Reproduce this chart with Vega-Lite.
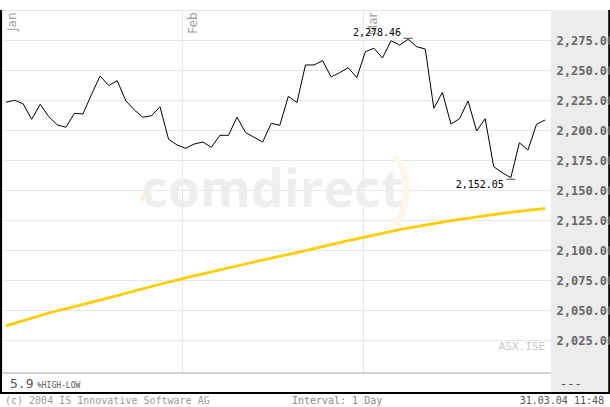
{
  "$schema": "https://vega.github.io/schema/vega-lite/v6.json",
  "width": 610,
  "height": 363,
  "autosize": {"type": "none"},
  "padding": {"left": 0, "right": 0, "top": 10, "bottom": 34},
  "background": "white",
  "config": {"view": {"stroke": null}, "font": "DejaVu Sans Mono"},
  "datasets": {
    "one": [{}],
    "price": [
      {"i": 0, "c": 2223.1}, {"i": 1, "c": 2224.8}, {"i": 2, "c": 2221.9}, {"i": 3, "c": 2208.9},
      {"i": 4, "c": 2221.4}, {"i": 5, "c": 2211.1}, {"i": 6, "c": 2204.2}, {"i": 7, "c": 2202.3},
      {"i": 8, "c": 2213.9}, {"i": 9, "c": 2213.3}, {"i": 10, "c": 2229.8}, {"i": 11, "c": 2245.0},
      {"i": 12, "c": 2237.1}, {"i": 13, "c": 2241.1}, {"i": 14, "c": 2224.4}, {"i": 15, "c": 2216.7},
      {"i": 16, "c": 2210.6}, {"i": 17, "c": 2211.9}, {"i": 18, "c": 2219.4}, {"i": 19, "c": 2192.3},
      {"i": 20, "c": 2187.5}, {"i": 21, "c": 2184.8}, {"i": 22, "c": 2188.3}, {"i": 23, "c": 2190.0},
      {"i": 24, "c": 2185.6}, {"i": 25, "c": 2195.6}, {"i": 26, "c": 2195.6}, {"i": 27, "c": 2210.6},
      {"i": 28, "c": 2197.8}, {"i": 29, "c": 2193.9}, {"i": 30, "c": 2190.0}, {"i": 31, "c": 2205.6},
      {"i": 32, "c": 2203.9}, {"i": 33, "c": 2228.1}, {"i": 34, "c": 2222.8}, {"i": 35, "c": 2254.2},
      {"i": 36, "c": 2254.2}, {"i": 37, "c": 2257.8}, {"i": 38, "c": 2244.2}, {"i": 39, "c": 2247.8},
      {"i": 40, "c": 2251.9}, {"i": 41, "c": 2243.6}, {"i": 42, "c": 2265.3}, {"i": 43, "c": 2268.1},
      {"i": 44, "c": 2260.0}, {"i": 45, "c": 2274.4}, {"i": 46, "c": 2270.8}, {"i": 47, "c": 2275.6},
      {"i": 48, "c": 2269.4}, {"i": 49, "c": 2267.5}, {"i": 50, "c": 2218.1}, {"i": 51, "c": 2231.4},
      {"i": 52, "c": 2205.0}, {"i": 53, "c": 2209.4}, {"i": 54, "c": 2224.2}, {"i": 55, "c": 2199.2},
      {"i": 56, "c": 2209.4}, {"i": 57, "c": 2169.4}, {"i": 58, "c": 2164.4}, {"i": 59, "c": 2160.3},
      {"i": 60, "c": 2189.4}, {"i": 61, "c": 2183.3}, {"i": 62, "c": 2204.8}, {"i": 63, "c": 2208.3}
    ],
    "ma": [
      {"i": 0, "m": 2036.7}, {"i": 5, "m": 2047.5}, {"i": 11, "m": 2058.3}, {"i": 17, "m": 2069.6},
      {"i": 21, "m": 2076.7}, {"i": 29, "m": 2090.0}, {"i": 34, "m": 2097.9}, {"i": 40, "m": 2107.9},
      {"i": 46, "m": 2116.9}, {"i": 52, "m": 2124.4}, {"i": 58, "m": 2130.6}, {"i": 63, "m": 2134.6}
    ],
    "extremes": [
      {"i": 47, "v": 2278.46, "mark": 2276.4, "label": "2,278.46"},
      {"i": 59, "v": 2152.05, "mark": 2158.9, "label": "2,152.05"}
    ]
  },
  "resolve": {"axis": {"x": "independent", "y": "independent"}},
  "layer": [
    {
      "data": {"name": "one"},
      "mark": {"type": "rect", "fill": "#ececec"},
      "encoding": {
        "x": {"datum": 63.7, "type": "quantitative", "scale": {"domain": [-0.701, 70.59], "nice": false, "zero": false},
          "axis": {"orient": "top", "values": [-0.5, 20.6, 41.7], "grid": true, "gridColor": "#e6e6e6", "domain": false, "ticks": false,
            "labelExpr": "datum.value < 10 ? 'Jan' : datum.value < 30 ? 'Feb' : 'Mar'",
            "labelAngle": 270, "labelAlign": "right", "labelBaseline": "top", "labelPadding": -2, "labelOffset": 5,
            "labelColor": "#a0a0a0", "labelFont": "DejaVu Sans", "labelFontSize": 12, "labelFlush": false, "labelOverlap": false,
            "labelBound": false, "title": null, "zindex": 0}},
        "x2": {"datum": 70.5},
        "y": {"datum": 2300, "type": "quantitative", "scale": {"domain": [1997.5, 2300], "nice": false, "zero": false},
          "axis": {"orient": "right", "offset": -54, "values": [2025, 2050, 2075, 2100, 2125, 2150, 2175, 2200, 2225, 2250, 2275],
            "format": ",.2f", "grid": false, "ticks": false, "domain": false, "labelPadding": 0,
            "labelFont": "DejaVu Sans Mono", "labelFontSize": 12, "labelFontWeight": "bold", "labelColor": "#666666", "labelAlign": "left",
            "labelBaseline": "middle", "title": null, "zindex": 1, "labelBound": false, "labelOverlap": false, "labelFlush": false}},
        "y2": {"datum": 1980.83}
      }
    },
    {
      "data": {"name": "one"},
      "mark": {"type": "rule", "color": "#a8a8a8", "strokeWidth": 1},
      "encoding": {
        "x": {"datum": -0.701, "type": "quantitative", "scale": {"domain": [-0.701, 70.59], "nice": false, "zero": false}, "axis": null},
        "x2": {"datum": 63.7},
        "y": {"datum": 1997.5, "type": "quantitative", "scale": {"domain": [1997.5, 2300], "nice": false, "zero": false}, "axis": null}
      }
    },
    {
      "data": {"name": "one"},
      "mark": {"type": "text", "text": "comdirect", "font": "Open Sans", "fontWeight": "bold", "fontSize": 52, "color": "#eeeeee", "align": "center", "baseline": "alphabetic"},
      "encoding": {
        "x": {"datum": 31.1, "type": "quantitative", "scale": {"domain": [-0.701, 70.59], "nice": false, "zero": false}, "axis": null},
        "y": {"datum": 2135.8, "type": "quantitative", "scale": {"domain": [1997.5, 2300], "nice": false, "zero": false}, "axis": null}
      }
    },
    {
      "data": {"name": "one"},
      "mark": {"type": "point", "shape": "square", "filled": true, "size": 36, "color": "#fdf1d6", "opacity": 1},
      "encoding": {
        "x": {"datum": 16.05, "type": "quantitative", "scale": {"domain": [-0.701, 70.59], "nice": false, "zero": false}, "axis": null},
        "y": {"datum": 2143.3, "type": "quantitative", "scale": {"domain": [1997.5, 2300], "nice": false, "zero": false}, "axis": null}
      }
    },
    {
      "data": {"name": "one"},
      "mark": {"type": "text", "text": ")", "font": "Open Sans", "fontSize": 78, "color": "#fef6e6", "align": "center", "baseline": "middle"},
      "encoding": {
        "x": {"datum": 46.2, "type": "quantitative", "scale": {"domain": [-0.701, 70.59], "nice": false, "zero": false}, "axis": null},
        "y": {"datum": 2150, "type": "quantitative", "scale": {"domain": [1997.5, 2300], "nice": false, "zero": false}, "axis": null}
      }
    },
    {
      "data": {"name": "ma"},
      "mark": {"type": "line", "color": "#ffcc00", "strokeWidth": 2.8},
      "encoding": {
        "x": {"field": "i", "type": "quantitative", "scale": {"domain": [-0.701, 70.59], "nice": false, "zero": false}, "axis": null},
        "y": {"field": "m", "type": "quantitative", "scale": {"domain": [1997.5, 2300], "nice": false, "zero": false}, "axis": null}
      }
    },
    {
      "data": {"name": "price"},
      "mark": {"type": "line", "color": "#000000", "strokeWidth": 1},
      "encoding": {
        "x": {"field": "i", "type": "quantitative", "scale": {"domain": [-0.701, 70.59], "nice": false, "zero": false}, "axis": null},
        "y": {"field": "c", "type": "quantitative", "scale": {"domain": [1997.5, 2300], "nice": false, "zero": false},
          "axis": {"orient": "left", "values": [2025, 2050, 2075, 2100, 2125, 2150, 2175, 2200, 2225, 2250, 2275, 2300],
            "grid": true, "gridColor": "#e6e6e6", "labels": false, "ticks": false, "domain": false, "title": null, "zindex": 0}}
      }
    },
    {
      "data": {"name": "extremes"},
      "mark": {"type": "tick", "orient": "horizontal", "color": "#000000", "size": 9, "thickness": 1},
      "encoding": {
        "x": {"field": "i", "type": "quantitative", "scale": {"domain": [-0.701, 70.59], "nice": false, "zero": false}, "axis": null},
        "y": {"field": "mark", "type": "quantitative", "scale": {"domain": [1997.5, 2300], "nice": false, "zero": false}, "axis": null}
      }
    },
    {
      "data": {"name": "extremes"},
      "mark": {"type": "text", "font": "DejaVu Sans Mono", "fontSize": 10, "color": "#000000", "align": "right", "baseline": "middle", "dx": -7, "dy": -3},
      "encoding": {
        "x": {"field": "i", "type": "quantitative", "scale": {"domain": [-0.701, 70.59], "nice": false, "zero": false}, "axis": null},
        "y": {"field": "v", "type": "quantitative", "scale": {"domain": [1997.5, 2300], "nice": false, "zero": false}, "axis": null},
        "text": {"field": "label"}
      }
    },
    {
      "data": {"name": "one"},
      "mark": {"type": "text", "text": "ASX.ISE", "font": "DejaVu Sans Mono", "fontSize": 11, "color": "#c8c8c8", "align": "right", "baseline": "middle"},
      "encoding": {
        "x": {"datum": 63, "type": "quantitative", "scale": {"domain": [-0.701, 70.59], "nice": false, "zero": false}, "axis": null},
        "y": {"datum": 2019.2, "type": "quantitative", "scale": {"domain": [1997.5, 2300], "nice": false, "zero": false}, "axis": null}
      }
    },
    {
      "data": {"name": "one"},
      "mark": {"type": "text", "text": "5.9", "font": "DejaVu Sans Mono", "fontSize": 13, "color": "#555555", "align": "left", "baseline": "alphabetic"},
      "encoding": {
        "x": {"datum": 0.47, "type": "quantitative", "scale": {"domain": [-0.701, 70.59], "nice": false, "zero": false}, "axis": null},
        "y": {"datum": 1985, "type": "quantitative", "scale": {"domain": [1997.5, 2300], "nice": false, "zero": false}, "axis": null}
      }
    },
    {
      "data": {"name": "one"},
      "mark": {"type": "text", "text": "%HIGH-LOW", "font": "DejaVu Sans Mono", "fontSize": 8, "color": "#555555", "align": "left", "baseline": "alphabetic"},
      "encoding": {
        "x": {"datum": 3.62, "type": "quantitative", "scale": {"domain": [-0.701, 70.59], "nice": false, "zero": false}, "axis": null},
        "y": {"datum": 1985, "type": "quantitative", "scale": {"domain": [1997.5, 2300], "nice": false, "zero": false}, "axis": null}
      }
    },
    {
      "data": {"name": "one"},
      "mark": {"type": "text", "text": "---", "font": "DejaVu Sans Mono", "fontSize": 12, "color": "#555555", "align": "left", "baseline": "middle"},
      "encoding": {
        "x": {"datum": 64.75, "type": "quantitative", "scale": {"domain": [-0.701, 70.59], "nice": false, "zero": false}, "axis": null},
        "y": {"datum": 1988.3, "type": "quantitative", "scale": {"domain": [1997.5, 2300], "nice": false, "zero": false}, "axis": null}
      }
    },
    {
      "data": {"name": "one"},
      "mark": {"type": "rule", "color": "#000000", "strokeWidth": 2},
      "encoding": {
        "x": {"datum": -0.584, "type": "quantitative", "scale": {"domain": [-0.701, 70.59], "nice": false, "zero": false}, "axis": null},
        "y": {"datum": 2300, "type": "quantitative", "scale": {"domain": [1997.5, 2300], "nice": false, "zero": false}, "axis": null},
        "y2": {"datum": 1980.83}
      }
    },
    {
      "data": {"name": "one"},
      "mark": {"type": "rule", "color": "#000000", "strokeWidth": 2},
      "encoding": {
        "x": {"datum": 70.5, "type": "quantitative", "scale": {"domain": [-0.701, 70.59], "nice": false, "zero": false}, "axis": null},
        "y": {"datum": 2300, "type": "quantitative", "scale": {"domain": [1997.5, 2300], "nice": false, "zero": false}, "axis": null},
        "y2": {"datum": 1980.83}
      }
    },
    {
      "data": {"name": "one"},
      "mark": {"type": "rule", "color": "#000000", "strokeWidth": 2},
      "encoding": {
        "x": {"datum": -0.701, "type": "quantitative", "scale": {"domain": [-0.701, 70.59], "nice": false, "zero": false}, "axis": null},
        "x2": {"datum": 70.59},
        "y": {"datum": 1980.83, "type": "quantitative", "scale": {"domain": [1997.5, 2300], "nice": false, "zero": false}, "axis": null}
      }
    },
    {
      "data": {"name": "one"},
      "mark": {"type": "text", "text": "(c) 2004 IS Innovative Software AG", "font": "DejaVu Sans Mono", "fontSize": 10, "color": "#999999", "align": "left", "baseline": "middle"},
      "encoding": {
        "x": {"datum": -0.117, "type": "quantitative", "scale": {"domain": [-0.701, 70.59], "nice": false, "zero": false}, "axis": null},
        "y": {"datum": 1974.2, "type": "quantitative", "scale": {"domain": [1997.5, 2300], "nice": false, "zero": false}, "axis": null}
      }
    },
    {
      "data": {"name": "one"},
      "mark": {"type": "text", "text": "Interval: 1 Day", "font": "DejaVu Sans Mono", "fontSize": 10, "color": "#888888", "align": "center", "baseline": "middle"},
      "encoding": {
        "x": {"datum": 38.69, "type": "quantitative", "scale": {"domain": [-0.701, 70.59], "nice": false, "zero": false}, "axis": null},
        "y": {"datum": 1974.2, "type": "quantitative", "scale": {"domain": [1997.5, 2300], "nice": false, "zero": false}, "axis": null}
      }
    },
    {
      "data": {"name": "one"},
      "mark": {"type": "text", "text": "31.03.04 11:48", "font": "DejaVu Sans Mono", "fontSize": 10, "color": "#555555", "align": "right", "baseline": "middle"},
      "encoding": {
        "x": {"datum": 69.89, "type": "quantitative", "scale": {"domain": [-0.701, 70.59], "nice": false, "zero": false}, "axis": null},
        "y": {"datum": 1974.2, "type": "quantitative", "scale": {"domain": [1997.5, 2300], "nice": false, "zero": false}, "axis": null}
      }
    }
  ]
}
